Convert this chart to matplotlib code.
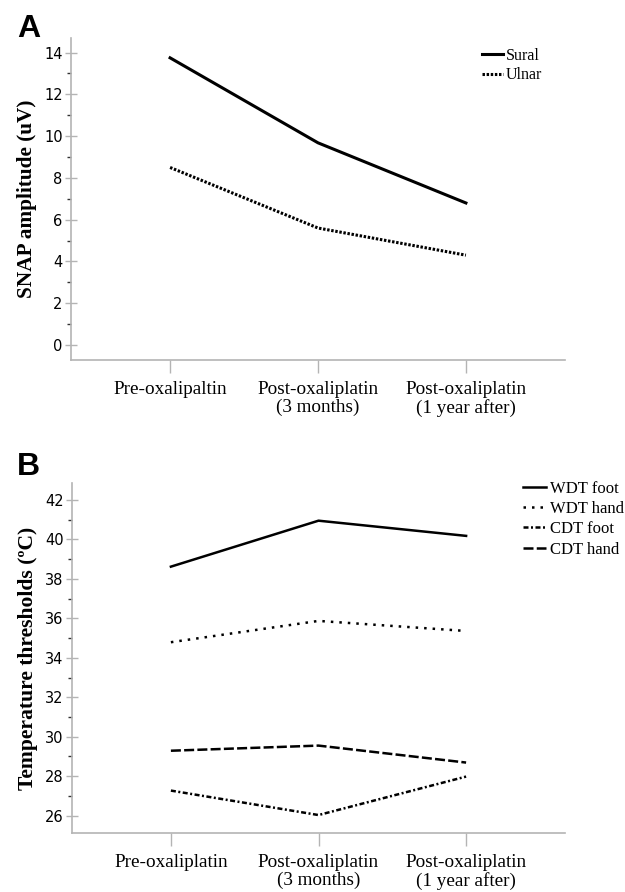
import numpy as np
import matplotlib
matplotlib.use("Agg")
import matplotlib.pyplot as plt
from matplotlib.ticker import MultipleLocator

# data
timepoints_a = ["Pre-oxalipaltin", "Post-oxaliplatin\n(3 months)", "Post-oxaliplatin\n(1 year after)"]
timepoints_b = ["Pre-oxaliplatin", "Post-oxaliplatin\n(3 months)", "Post-oxaliplatin\n(1 year after)"]

sural = [13.75, 9.68, 6.8]
ulnar = [8.5, 5.6, 4.3]

wdt_foot = [38.62, 40.95, 40.18]
wdt_hand = [34.79, 35.87, 35.36]
cdt_foot = [27.27, 26.03, 27.98]
cdt_hand = [29.29, 29.55, 28.69]

serif = "Liberation Serif"
sans = "DejaVu Sans"
spine_col = "#b4b4b4"

fig = plt.figure(figsize=(6.25, 8.92), dpi=100)
ax_a = fig.add_axes([71 / 625, 1 - 360 / 892, (565 - 71) / 625, (360 - 38) / 892])
ax_b = fig.add_axes([72 / 625, 1 - 833 / 892, (565 - 72) / 625, (833 - 483) / 892])


def style_axes(ax, labels, ylabel, ysize):
    x = np.arange(len(labels))
    ax.set_xticks(x)
    ax.set_xticklabels(labels, fontfamily=serif, fontsize=13.8, linespacing=1.1)
    ax.set_xlim(-0.67, 2.67)
    for s in ["top", "right"]:
        ax.spines[s].set_visible(False)
    for s in ["left", "bottom"]:
        ax.spines[s].set_color(spine_col)
        ax.spines[s].set_linewidth(1.2)
    ax.tick_params(axis="x", length=9, width=1, color=spine_col, pad=6)
    ax.tick_params(axis="y", which="major", direction="inout", length=8, width=1,
                   color=spine_col, labelsize=10.5, pad=2)
    ax.tick_params(axis="y", which="minor", direction="out", length=3, width=1, color="#333333")
    for t in ax.get_yticklabels():
        t.set_fontfamily(sans)
    ax.set_ylabel(ylabel, fontfamily=serif, fontweight="bold", fontsize=ysize, labelpad=5)


# panel A
ax_a.plot(range(3), sural, color="black", lw=2.2, ls="-", label="Sural")
ax_a.plot(range(3), ulnar, color="black", lw=2.2, ls=(0, (0.8, 0.55)), label="Ulnar")
ax_a.set_ylim(-0.72, 14.7)
ax_a.yaxis.set_major_locator(MultipleLocator(2))
ax_a.yaxis.set_minor_locator(MultipleLocator(1))
style_axes(ax_a, timepoints_a, "SNAP amplitude (uV)", 15.3)
ax_a.legend(loc="upper left", bbox_to_anchor=(482 / 625, 1 - 48 / 892), bbox_transform=fig.transFigure,
            frameon=False, prop={"family": serif, "size": 11.5}, handlelength=1.3,
            handletextpad=0.2, borderpad=0, borderaxespad=0, labelspacing=0.2)

# panel B
lw_b = 1.8
ax_b.plot(range(3), wdt_foot, color="black", lw=lw_b, ls="-", label="WDT foot")
ax_b.plot(range(3), wdt_hand, color="black", lw=lw_b, ls=(0, (1, 2.4)), label="WDT hand")
ax_b.plot(range(3), cdt_foot, color="black", lw=lw_b, ls=(0, (2.0, 1.0, 0.8, 1.0)), label="CDT foot")
ax_b.plot(range(3), cdt_hand, color="black", lw=lw_b, ls=(0, (4.0, 1.3)), label="CDT hand")
ax_b.set_ylim(25.12, 42.86)
ax_b.yaxis.set_major_locator(MultipleLocator(2))
ax_b.yaxis.set_minor_locator(MultipleLocator(1))
style_axes(ax_b, timepoints_b, "Temperature thresholds (ºC)", 15.6)
ax_b.legend(loc="upper left", bbox_to_anchor=(523 / 625, 1 - 481 / 892), bbox_transform=fig.transFigure,
            frameon=False, prop={"family": serif, "size": 12}, handlelength=1.4,
            handletextpad=0.2, borderpad=0, borderaxespad=0, labelspacing=0.25)

# panel letters
fig.text(17 / 625, 1 - 37 / 892, "A", fontfamily="Liberation Sans", fontweight="bold", fontsize=23)
fig.text(17 / 625, 1 - 475 / 892, "B", fontfamily="Liberation Sans", fontweight="bold", fontsize=23)

fig.savefig("out.png", dpi=100)
